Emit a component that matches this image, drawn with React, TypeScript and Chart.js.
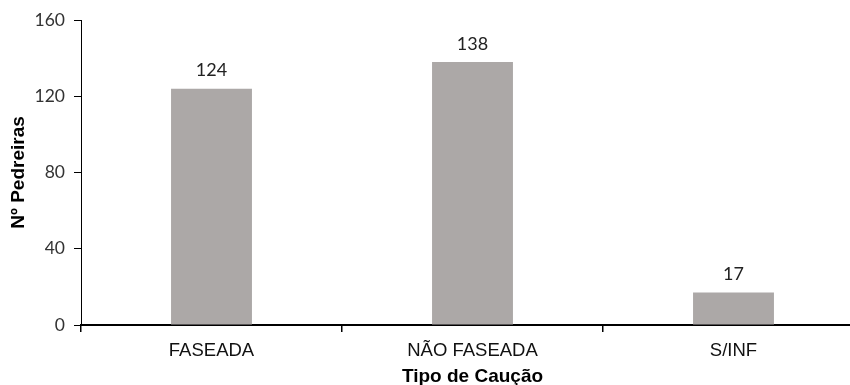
import React, { useEffect, useRef } from "react";
import { Chart, registerables } from "chart.js";

Chart.register(...registerables);

const categories = ["FASEADA", "NÃO FASEADA", "S/INF"];
const quarryCounts = [124, 138, 17];
const yTicks = [0, 40, 80, 120, 160];

const barLabels = {
  id: "barLabels",
  afterDatasetsDraw(chart: any) {
    const { ctx } = chart;
    const meta = chart.getDatasetMeta(0);
    ctx.save();
    ctx.font = "18px Lato";
    ctx.fillStyle = "#222";
    ctx.textAlign = "center";
    ctx.textBaseline = "bottom";
    meta.data.forEach((bar: any, i: number) => {
      ctx.fillText(String(quarryCounts[i]), bar.x, bar.y - 9);
    });
    ctx.restore();
  },
};

export default function App() {
  const ref = useRef<HTMLCanvasElement>(null);

  useEffect(() => {
    if (!ref.current) return;
    const chart = new Chart(ref.current, {
      type: "bar",
      data: {
        labels: categories,
        datasets: [
          {
            data: quarryCounts,
            backgroundColor: "#aca8a7",
            barPercentage: 0.31,
            categoryPercentage: 1,
          },
        ],
      },
      options: {
        responsive: false,
        animation: false,
        layout: { padding: { top: 20, right: 0, left: 0, bottom: 0 } },
        plugins: {
          legend: { display: false },
          tooltip: { enabled: false },
        },
        scales: {
          x: {
            grid: {
              display: true,
              drawOnChartArea: false,
              drawTicks: true,
              tickLength: 7,
              color: "#000",
              lineWidth: 1.5,
              offset: true,
            },
            border: { display: true, color: "#000", width: 2 },
            ticks: {
              color: "#111",
              font: { family: "Liberation Sans", size: 18.5 },
              padding: 8,
            },
            title: {
              display: true,
              text: "Tipo de Caução",
              color: "#000",
              font: { family: "Liberation Sans", size: 19, weight: "bold" },
              padding: { top: 2, bottom: -3 },
            },
            afterFit(scale: any) {
              scale.height = 60;
            },
          },
          y: {
            min: 0,
            max: 160,
            afterBuildTicks(scale: any) {
              scale.ticks = yTicks.map((v) => ({ value: v }));
            },
            grid: {
              display: true,
              drawOnChartArea: false,
              drawTicks: true,
              tickLength: 7,
              color: "#000",
            },
            border: { display: true, color: "#000", width: 1 },
            ticks: {
              color: "#333",
              font: { family: "Lato", size: 17.5 },
              padding: 9,
            },
            title: {
              display: true,
              text: "Nº Pedreiras",
              color: "#000",
              font: { family: "Liberation Sans", size: 19, weight: "bold" },
              padding: { top: 7, bottom: 4 },
            },
            afterFit(scale: any) {
              scale.width = 81;
            },
          },
        },
      },
      plugins: [barLabels],
    });
    return () => chart.destroy();
  }, []);

  return (
    <div
      style={{
        position: "absolute",
        left: 0,
        top: 0,
        width: 850,
        height: 385,
        overflow: "hidden",
        background: "#fff",
      }}
    >
      <canvas ref={ref} width={864} height={385} style={{ display: "block" }} />
    </div>
  );
}
